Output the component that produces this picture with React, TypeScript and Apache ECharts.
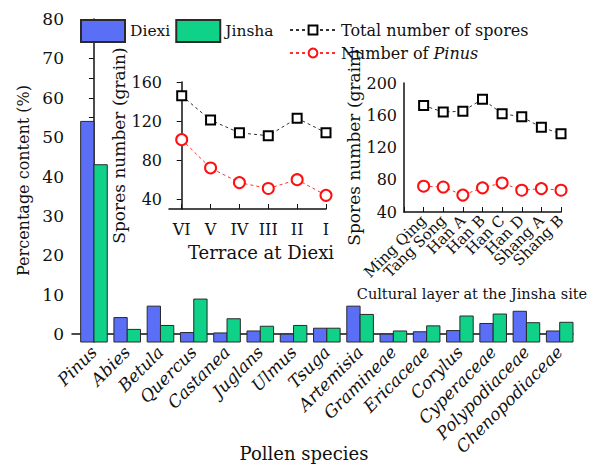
import React, { useEffect, useRef } from 'react';
import * as echarts from 'echarts';

// Pollen percentages (%) at the two sites
const species = ['Pinus', 'Abies', 'Betula', 'Quercus', 'Castanea', 'Juglans', 'Ulmus', 'Tsuga', 'Artemisia', 'Gramineae', 'Ericaceae', 'Corylus', 'Cyperaceae', 'Polypodiaceae', 'Chenopodiaceae'];
const diexiPct = [54, 4.2, 7.1, 0.4, 0.3, 0.8, 0, 1.5, 7.1, 0, 0.6, 0.9, 2.7, 5.8, 0.8];
const jinshaPct = [43, 1.2, 2.2, 8.9, 3.9, 2.0, 2.2, 1.5, 5.0, 0.8, 2.1, 4.6, 5.1, 2.9, 3.0];
const pctTickLabels = [0, 10, 20, 30, 40, 50, 60, 70, 80];
const pctTickMarks = [0, 5, 10, 15, 20, 25, 30, 35, 40, 45, 50, 55, 60, 65, 70, 75, 80];

// Spore counts per terrace at Diexi
const terraces = ['VI', 'V', 'IV', 'III', 'II', 'I'];
const terraceTotal = [146, 121, 108, 105, 123, 108];
const terracePinus = [101, 72, 57, 51, 60, 44];
const terraceTicks = [40, 80, 120, 160];

// Spore counts per cultural layer at the Jinsha site
const layers = ['Ming Qing', 'Tang Song', 'Han A', 'Han B', 'Han C', 'Han D', 'Shang A', 'Shang B'];
const layerTotal = [172, 164, 165, 180, 162, 158, 145, 137];
const layerPinus = [72, 71, 61, 70, 76, 67, 69, 67];

const FONT = '"DejaVu Serif", "Liberation Serif", serif';
const INK = '#111';
const BLUE = '#5a6ef6';
const GREEN = '#0fd188';
const PCT_MIN = -2;

const TOTAL = 'Total number of spores';
const PINUS = 'Number of Pinus';

// The layer axis starts one slot before the first layer
const layerAxis = ['', ...layers];

function barSeries(name: string, values: number[], color: string, side: number) {
  return {
    type: 'custom',
    name,
    xAxisIndex: 0,
    yAxisIndex: 0,
    itemStyle: { color, borderColor: '#2a2a2a', borderWidth: 1 },
    data: values.map((v, i) => [i, v]),
    encode: { x: 0, y: 1 },
    renderItem: (_p: any, api: any) => {
      const i = api.value(0);
      const v = api.value(1);
      const top = api.coord([i, v]);
      const base = api.coord([i, PCT_MIN]);
      const unit = api.size([1, 0])[0];
      const w = unit * 0.4;
      const x = side < 0 ? top[0] - w : top[0];
      return {
        type: 'rect',
        shape: { x, y: top[1], width: w, height: base[1] - top[1] },
        style: { fill: color, stroke: '#2a2a2a', lineWidth: 1 },
      };
    },
  };
}

function lineSeries(name: string, xIdx: number, data: any[], kind: 'rect' | 'circle') {
  const color = kind === 'rect' ? '#000' : '#ff1010';
  return {
    type: 'line',
    name,
    xAxisIndex: xIdx,
    yAxisIndex: xIdx,
    data,
    symbol: kind,
    symbolSize: kind === 'rect' ? 9 : 11,
    itemStyle: { color: '#fff', borderColor: color, borderWidth: 2 },
    lineStyle: { color: kind === 'rect' ? '#333' : '#ff3030', width: 1, type: [3, 3] },
    z: kind === 'rect' ? 3 : 4,
  };
}

const axisLine = { show: true, lineStyle: { color: INK, width: 1.5 } };

export default function App() {
  const ref = useRef<HTMLDivElement>(null);

  useEffect(() => {
    if (!ref.current) return;
    const chart = echarts.init(ref.current, undefined, { renderer: 'svg' });
    const option: any = {
      animation: false,
      backgroundColor: '#fff',
      textStyle: { fontFamily: FONT, color: INK },
      grid: [
        { left: 72, top: 19, width: 501, height: 323 },
        { left: 169, top: 82, width: 157, height: 127 },
        { left: 404, top: 83, width: 157, height: 129 },
      ],
      xAxis: [
        {
          gridIndex: 0,
          type: 'value',
          min: -0.66,
          max: 14.4,
          axisLine,
          axisTick: { show: false },
          splitLine: { show: false },
          axisLabel: {
            customValues: species.map((_, i) => i),
            formatter: (v: number) => species[Math.round(v)] ?? '',
            rotate: 45,
            margin: 7,
            fontSize: 17,
            lineHeight: 12,
            fontStyle: 'italic',
            color: INK,
            fontFamily: FONT,
            showMinLabel: true,
            showMaxLabel: true,
            hideOverlap: false,
          },
        },
        {
          gridIndex: 1,
          type: 'value',
          min: -0.44,
          max: 5,
          axisLine,
          splitLine: { show: false },
          axisTick: { customValues: terraces.map((_, i) => i), inside: true, length: 5, lineStyle: { color: INK } },
          axisLabel: {
            customValues: terraces.map((_, i) => i),
            formatter: (v: number) => terraces[Math.round(v)] ?? '',
            margin: 12,
            fontSize: 16,
            color: INK,
            fontFamily: FONT,
            showMinLabel: true,
            showMaxLabel: true,
            hideOverlap: false,
          },
        },
        {
          gridIndex: 2,
          type: 'category',
          data: layerAxis,
          boundaryGap: false,
          axisLine,
          splitLine: { show: false },
          axisTick: { interval: 0, inside: true, length: 5, lineStyle: { color: INK } },
          axisLabel: {
            interval: 0,
            rotate: 45,
            margin: 6,
            fontSize: 15,
            color: INK,
            fontFamily: FONT,
            hideOverlap: false,
          },
        },
      ],
      yAxis: [
        {
          gridIndex: 0,
          type: 'value',
          min: PCT_MIN,
          max: 80,
          axisLine,
          splitLine: { show: false },
          axisTick: { customValues: pctTickMarks, length: 5, lineStyle: { color: INK } },
          axisLabel: { customValues: pctTickLabels, fontSize: 17, margin: 8, color: INK, fontFamily: FONT },
          name: 'Percentage content (%)',
          nameLocation: 'middle',
          nameGap: 37,
          nameTextStyle: { fontSize: 16, color: INK, fontFamily: FONT },
        },
        {
          gridIndex: 1,
          type: 'value',
          min: 30,
          max: 160,
          axisLine,
          splitLine: { show: false },
          axisTick: { customValues: terraceTicks, length: 5, lineStyle: { color: INK } },
          axisLabel: { customValues: terraceTicks, fontSize: 16, margin: 7, color: INK, fontFamily: FONT },
          name: 'Spores number (grain)',
          nameLocation: 'middle',
          nameGap: 39,
          nameTextStyle: { fontSize: 17, color: INK, fontFamily: FONT },
        },
        {
          gridIndex: 2,
          type: 'value',
          min: 40,
          max: 200,
          interval: 40,
          axisLine,
          splitLine: { show: false },
          axisTick: { length: 5, lineStyle: { color: INK } },
          axisLabel: { fontSize: 16, margin: 7, color: INK, fontFamily: FONT },
          name: 'Spores number (grain)',
          nameLocation: 'middle',
          nameGap: 38,
          nameTextStyle: { fontSize: 17, color: INK, fontFamily: FONT },
        },
      ],
      legend: [
        {
          data: [
            { name: 'Diexi', icon: 'rect' },
            { name: 'Jinsha', icon: 'rect' },
          ],
          left: 75,
          top: 14,
          itemWidth: 44,
          itemHeight: 22,
          itemGap: 5,
          textStyle: { fontSize: 15.5, color: INK, fontFamily: FONT },
        },
        {
          data: [TOTAL, PINUS],
          orient: 'vertical',
          left: 284,
          top: 16,
          itemWidth: 46,
          itemHeight: 11,
          itemGap: 5,
          formatter: (n: string) => (n === PINUS ? 'Number of {i|Pinus}' : n),
          textStyle: {
            fontSize: 16,
            lineHeight: 18,
            color: INK,
            fontFamily: FONT,
            rich: { i: { fontStyle: 'italic', fontSize: 16, fontFamily: FONT, color: INK } },
          },
        },
      ],
      graphic: [
        {
          type: 'text',
          x: 261,
          y: 252,
          style: { text: 'Terrace at Diexi', font: `18px ${FONT}`, fill: INK, align: 'center', verticalAlign: 'middle' },
        },
        {
          type: 'text',
          x: 472,
          y: 294,
          style: { text: 'Cultural layer at the Jinsha site', font: `14.5px ${FONT}`, fill: INK, align: 'center', verticalAlign: 'middle' },
        },
        {
          type: 'text',
          x: 304,
          y: 453,
          style: { text: 'Pollen species', font: `18px ${FONT}`, fill: INK, align: 'center', verticalAlign: 'middle' },
        },
      ],
      series: [
        barSeries('Diexi', diexiPct, BLUE, -1),
        barSeries('Jinsha', jinshaPct, GREEN, 1),
        lineSeries(TOTAL, 1, terraceTotal.map((v, i) => [i, v]), 'rect'),
        lineSeries(PINUS, 1, terracePinus.map((v, i) => [i, v]), 'circle'),
        lineSeries(TOTAL, 2, layerTotal.map((v, i) => [layers[i], v]), 'rect'),
        lineSeries(PINUS, 2, layerPinus.map((v, i) => [layers[i], v]), 'circle'),
      ],
    };
    chart.setOption(option);
    return () => chart.dispose();
  }, []);

  return <div ref={ref} style={{ position: 'absolute', left: 0, top: 0, width: 592, height: 466 }} />;
}
